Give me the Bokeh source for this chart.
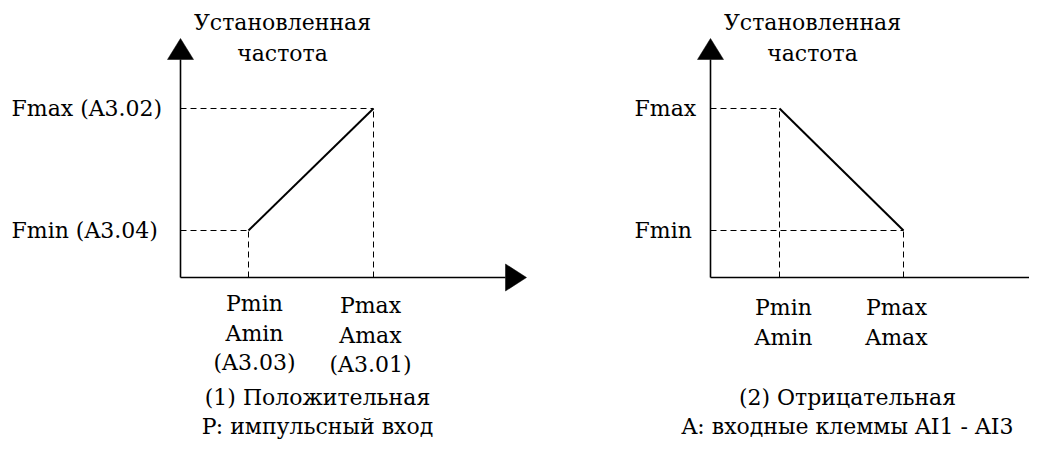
from bokeh.plotting import figure
from bokeh.layouts import row
from bokeh.models import Range1d, ColumnDataSource
from bokeh.core.properties import value
from bokeh.embed import file_html
from bokeh.resources import INLINE

# ---------------- data ----------------
# (1) positive characteristic: input (P/A) -> set frequency
pos_input = [68, 193]          # Pmin/Amin, Pmax/Amax
pos_freq = [47, 169]           # Fmin, Fmax
pos_freq_labels = ["Fmin (A3.04)", "Fmax (A3.02)"]
pos_input_labels = [["Pmin", "Amin", "(A3.03)"], ["Pmax", "Amax", "(A3.01)"]]
pos_caption = ["(1) Положительная", "P: импульсный вход"]

# (2) negative characteristic
neg_input = [69, 193]
neg_freq = [169, 47]
neg_freq_labels = ["Fmax", "Fmin"]
neg_input_labels = [["Pmin", "Amin"], ["Pmax", "Amax"]]
neg_caption = ["(2) Отрицательная", "A: входные клеммы AI1 - AI3"]

axis_title = ["Установленная", "частота"]

# ---------------- style ----------------
FONT = value("DejaVu Serif")
FS = value("22px")
H = 439
Y0 = 277          # pixels from figure top to the x axis


def panel(width, x0, inp, freq, flabels, flabel_x, ilabels, ilabel_dx, ilabel_dy,
          ilabel_step, caption, x_end):
    p = figure(width=width, height=H, output_backend="svg", toolbar_location=None,
               x_range=Range1d(-x0, width - x0), y_range=Range1d(Y0 - H, Y0),
               x_axis_type=None, y_axis_type=None, min_border=0,
               background_fill_color="white", border_fill_color="white")
    p.outline_line_color = None
    y_end = 218

    # dashed guide lines
    p.segment(x0=[0] * len(inp), y0=freq, x1=inp, y1=freq,
              line_color="black", line_width=1, line_dash="6 4")
    p.segment(x0=inp, y0=[0] * len(inp), x1=inp, y1=freq,
              line_color="black", line_width=1, line_dash="6 4")

    # axes with arrow heads
    p.segment(x0=[0, 0], y0=[0, 0], x1=[x_end, 0], y1=[0, y_end],
              line_color="black", line_width=1.6)
    p.patches(xs=[[x_end, x_end, x_end + 21], [-13, 13, 0]],
              ys=[[13.5, -13.5, 0], [y_end, y_end, y_end + 21]],
              fill_color="black", line_color="black", line_width=0.5)

    # characteristic
    p.line(x=inp, y=freq, line_color="black", line_width=2)

    # frequency labels
    p.text(x=[flabel_x] * len(freq), y=freq, text=flabels, text_font=FONT,
           text_font_size=FS, text_align="left", text_baseline="middle",
           text_color="black")

    # input labels under the x axis
    xs, ys, ts, offs = [], [], [], []
    for xi, lines, dx, dy in zip(inp, ilabels, ilabel_dx, ilabel_dy):
        for k, t in enumerate(lines):
            xs.append(xi + dx)
            ys.append(0)
            ts.append(t)
            offs.append(dy + ilabel_step * k)
    src = ColumnDataSource(dict(x=xs, y=ys, t=ts, o=offs))
    p.text(x="x", y="y", text="t", y_offset="o", source=src, text_font=FONT,
           text_font_size=FS, text_align="center", text_baseline="middle",
           text_color="black")

    # axis title
    p.text(x=[102, 102], y=[y_end + 37, y_end + 6], text=axis_title,
           text_font=FONT, text_font_size=FS, text_align="center",
           text_baseline="middle", text_color="black")

    # caption
    p.text(x=[137, 137], y=[-120, -149], text=caption, text_font=FONT,
           text_font_size=FS, text_align="center", text_baseline="middle",
           text_color="black")
    return p


left = panel(538, 180, pos_input, pos_freq, pos_freq_labels, -169, pos_input_labels,
             [6, -3], [26, 28], 29.5, pos_caption, 325)
right = panel(491, 172, neg_input, neg_freq, neg_freq_labels, -76, neg_input_labels,
              [4, -7], [30, 30], 30, neg_caption, 324)

layout = row(left, right)
open("out.html", "w").write(file_html(layout, INLINE))
